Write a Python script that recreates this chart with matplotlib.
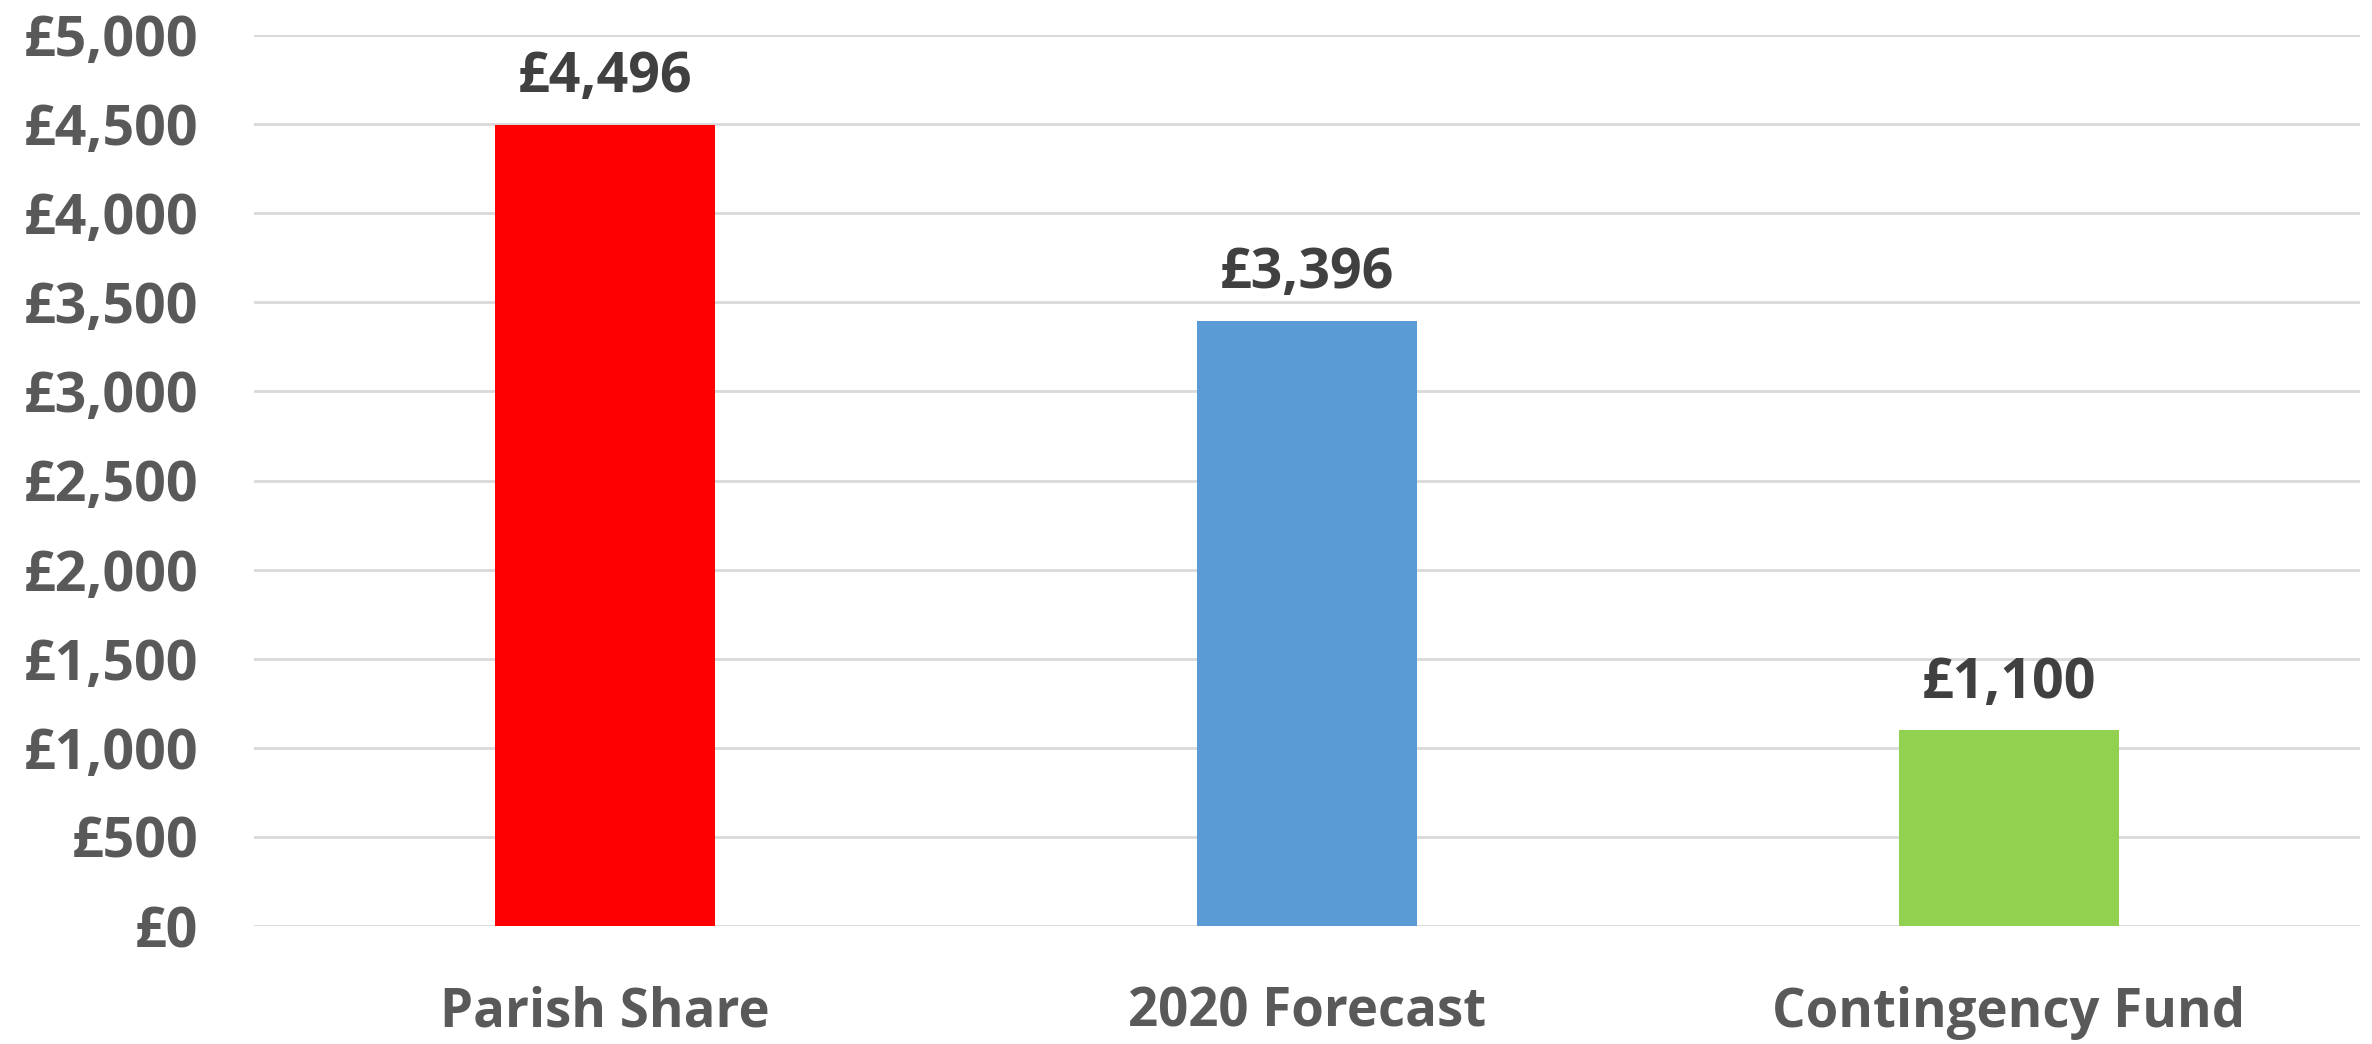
import matplotlib
matplotlib.use("Agg")
import matplotlib.pyplot as plt
from matplotlib.ticker import FuncFormatter, MultipleLocator

categories = ["Parish Share", "2020 Forecast", "Contingency Fund"]
values = [4496, 3396, 1100]
colors = ["#FF0000", "#5B9BD5", "#92D050"]

plt.rcParams['font.family'] = ['Open Sans', 'DejaVu Sans']
plt.rcParams['font.weight'] = 'bold'

fig = plt.figure(figsize=(23.72, 10.44), dpi=100)
ax = fig.add_axes([254/2372, 1-926/1044, (2360-254)/2372, (926-35)/1044])

x = list(range(len(categories)))
bars = ax.bar(x, values, width=0.312, color=colors, zorder=3)

ax.set_xlim(-0.5, len(categories)-0.5)
ax.set_ylim(0, 5000)
ax.yaxis.set_major_locator(MultipleLocator(500))
ax.yaxis.set_major_formatter(FuncFormatter(lambda v, p: f"£{int(v):,}"))
ax.grid(axis='y', color='#D9D9D9', linewidth=2, zorder=0)
for s in ax.spines.values():
    s.set_visible(False)
ax.tick_params(axis='both', length=0)
ax.tick_params(axis='y', labelsize=40, labelcolor='#595959', pad=40)
ax.tick_params(axis='x', labelsize=38, labelcolor='#595959', pad=43)
ax.set_xticks(x)
ax.set_xticklabels(categories, fontweight='bold')
for lbl in ax.get_yticklabels():
    lbl.set_fontweight('bold')

for b, v in zip(bars, values):
    ax.annotate(f"£{v:,}", (b.get_x()+b.get_width()/2, v), xytext=(0, 14),
                textcoords='offset points', ha='center', va='bottom',
                fontsize=40, fontweight='bold', color='#404040')

fig.savefig("out.png", dpi=100)
